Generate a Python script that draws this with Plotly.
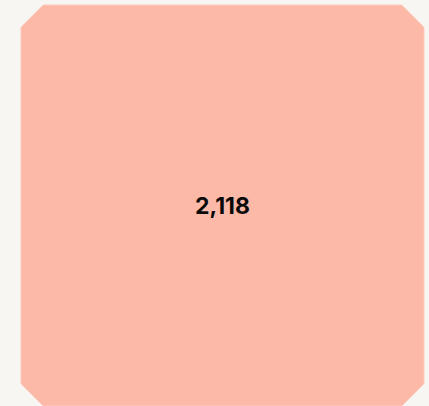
import plotly.graph_objects as go

labels = ["Total"]
values = [2118]
colors = ["#FDB9A7"]

BG = "#F7F6F2"
W, H = 429, 406
ML, MR, MT, MB = 21, 5, 5, 0
CUT = 22

fig = go.Figure(go.Treemap(
    labels=labels,
    parents=[""],
    values=values,
    marker=dict(colors=colors, line=dict(width=1, color="#FCCBBD"), pad=dict(t=0, l=0, r=0, b=0)),
    texttemplate="<b>%{value:,}</b>",
    textposition="middle center",
    textfont=dict(family="Inter, sans-serif", size=23, color="#0A0A0A"),
    hoverinfo="skip",
    tiling=dict(pad=0),
    pathbar=dict(visible=False),
))

pw = W - ML - MR
ph = H - MT - MB
cx = CUT / pw
cy = CUT / ph
e = 0.01
corners = [
    f"M {-e},{1+e} L {cx},{1+e} L {cx},1 L 0,{1-cy} L {-e},{1-cy} Z",
    f"M {1+e},{1+e} L {1-cx},{1+e} L {1-cx},1 L 1,{1-cy} L {1+e},{1-cy} Z",
    f"M {-e},{-e} L {cx},{-e} L {cx},0 L 0,{cy} L {-e},{cy} Z",
    f"M {1+e},{-e} L {1-cx},{-e} L {1-cx},0 L 1,{cy} L {1+e},{cy} Z",
]
shapes = [dict(type="path", xref="paper", yref="paper", path=p,
               fillcolor=BG, line=dict(width=0), layer="above") for p in corners]

fig.update_layout(
    width=W, height=H,
    margin=dict(l=ML, r=MR, t=MT, b=MB),
    paper_bgcolor=BG,
    plot_bgcolor=BG,
    shapes=shapes,
    showlegend=False,
)

fig.write_html(
    "out.html",
    config={"displayModeBar": False},
    post_script="document.body.style.margin='0';document.body.style.overflow='hidden';document.body.style.background='%s';" % BG,
)
